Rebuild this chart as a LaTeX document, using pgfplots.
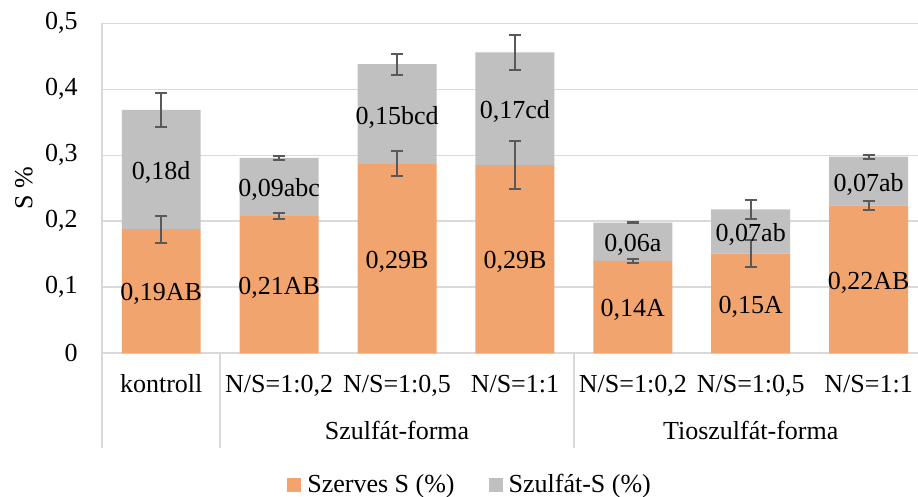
\documentclass[border=0pt]{standalone}
\usepackage{pgfplots}
\pgfplotsset{compat=1.18}
\usepackage{fontspec}
\setmainfont{Liberation Serif}
\definecolor{orangebar}{RGB}{242,164,111}
\definecolor{graybar}{RGB}{192,192,192}
\definecolor{gridc}{RGB}{217,217,217}
\definecolor{errc}{RGB}{89,89,89}
\begin{document}
\fontsize{13}{15}\selectfont
\begin{tikzpicture}[font=\fontsize{13}{15}\selectfont]
\useasboundingbox (-51.15pt,-71.85pt) rectangle (407.85pt,176.65pt);
\pgfplotsset{
  mybase/.style={
    at={(0pt,0pt)}, anchor=south west,
    scale only axis, width=407.85pt, height=165pt,
    xmin=-0.5, xmax=6.4186, ymin=0, ymax=0.5,
    enlargelimits=false,
  }
}
\begin{axis}[mybase,
  ybar stacked, bar width=0.67,
  axis lines*=left,
  axis line style={draw=gridc, line width=0.8pt},
  ymajorgrids, grid style={draw=gridc, line width=0.8pt},
  ytick={0,0.1,0.2,0.3,0.4,0.5},
  xtick={0,1,2,3,4,5,6},
  xticklabels={kontroll,{N/S=1:0,2},{N/S=1:0,5},{N/S=1:1},{N/S=1:0,2},{N/S=1:0,5},{N/S=1:1}},
  major tick length=0pt,
  yticklabel style={anchor=east, inner sep=0pt, xshift=-12.15pt},
  xticklabel style={anchor=base, inner sep=0pt, yshift=-19.85pt},
  /pgf/number format/use comma,
  /pgf/number format/fixed,
  /pgf/number format/precision=1,
  /pgf/number format/assume math mode=true,
  ylabel={S \%},
  ylabel style={at={(axis description cs:-0.096,0.5)}, rotate=0, anchor=center},
  legend columns=2,
  legend style={at={(axis description cs:0.2264,-0.3991)}, anchor=west, draw=none, fill=none, inner sep=0pt,
    /tikz/every odd column/.append style={column sep=3pt},
    /tikz/every even column/.append style={column sep=17pt},
    nodes={inner sep=0pt}},
  legend image code/.code={\draw[#1, draw=none] (0pt,-3.5pt) rectangle (7pt,3.5pt);},
]
\addplot[fill=orangebar, draw=none] coordinates {(0,0.188) (1,0.208) (2,0.287) (3,0.285) (4,0.140) (5,0.151) (6,0.224)};
\addlegendentry{Szerves S (\%)}
\addplot[fill=graybar, draw=none] coordinates {(0,0.181) (1,0.088) (2,0.151) (3,0.171) (4,0.058) (5,0.067) (6,0.074)};
\addlegendentry{Szulfát-S (\%)}
\coordinate (s0) at (axis cs:-0.5,0);
\coordinate (s1) at (axis cs:0.5,0);
\coordinate (s2) at (axis cs:3.5,0);
\coordinate (g1) at (axis cs:2,0);
\coordinate (g2) at (axis cs:5,0);
\end{axis}
\begin{axis}[mybase, hide axis]
\addplot[draw=none, mark=none, error bars/.cd, y dir=both, y explicit,
  error bar style={draw=errc, line width=1pt},
  error mark options={draw=errc, line width=1pt, mark size=3pt, rotate=90}]
  coordinates {(0,0.188) +- (0,0.0205) (1,0.208) +- (0,0.005) (2,0.287) +- (0,0.019) (3,0.285) +- (0,0.0368) (4,0.140) +- (0,0.003) (5,0.151) +- (0,0.0205) (6,0.224) +- (0,0.0074)};
\addplot[draw=none, mark=none, error bars/.cd, y dir=both, y explicit,
  error bar style={draw=errc, line width=1pt},
  error mark options={draw=errc, line width=1pt, mark size=3pt, rotate=90}]
  coordinates {(0,0.369) +- (0,0.026) (1,0.296) +- (0,0.003) (2,0.438) +- (0,0.016) (3,0.456) +- (0,0.0268) (4,0.198) +- (0,0.001) (5,0.218) +- (0,0.0147) (6,0.298) +- (0,0.003)};
\addplot[draw=none, mark=none, nodes near coords, point meta=explicit symbolic,
  nodes near coords style={anchor=center, text=black, inner sep=0pt, yshift=-1.5pt}]
  coordinates {(0,0.094) [{0,19AB}] (1,0.104) [{0,21AB}] (2,0.1435) [{0,29B}] (3,0.1425) [{0,29B}] (4,0.070) [{0,14A}] (5,0.0755) [{0,15A}] (6,0.112) [{0,22AB}]};
\addplot[draw=none, mark=none, nodes near coords, point meta=explicit symbolic,
  nodes near coords style={anchor=center, text=black, inner sep=0pt, yshift=-1.5pt}]
  coordinates {(0,0.2785) [{0,18d}] (1,0.252) [{0,09abc}] (2,0.3625) [{0,15bcd}] (3,0.3705) [{0,17cd}] (4,0.169) [{0,06a}] (5,0.1845) [{0,07ab}] (6,0.261) [{0,07ab}]};
\end{axis}
\draw[gridc, line width=0.8pt] (s0) -- ++(0,-47.35pt);
\draw[gridc, line width=0.8pt] (s1) -- ++(0,-47.35pt);
\draw[gridc, line width=0.8pt] (s2) -- ++(0,-47.35pt);
\node[anchor=base, inner sep=0pt] at ([yshift=-43.35pt]g1) {Szulfát-forma};
\node[anchor=base, inner sep=0pt] at ([yshift=-43.35pt]g2) {Tioszulfát-forma};
\end{tikzpicture}
\end{document}
